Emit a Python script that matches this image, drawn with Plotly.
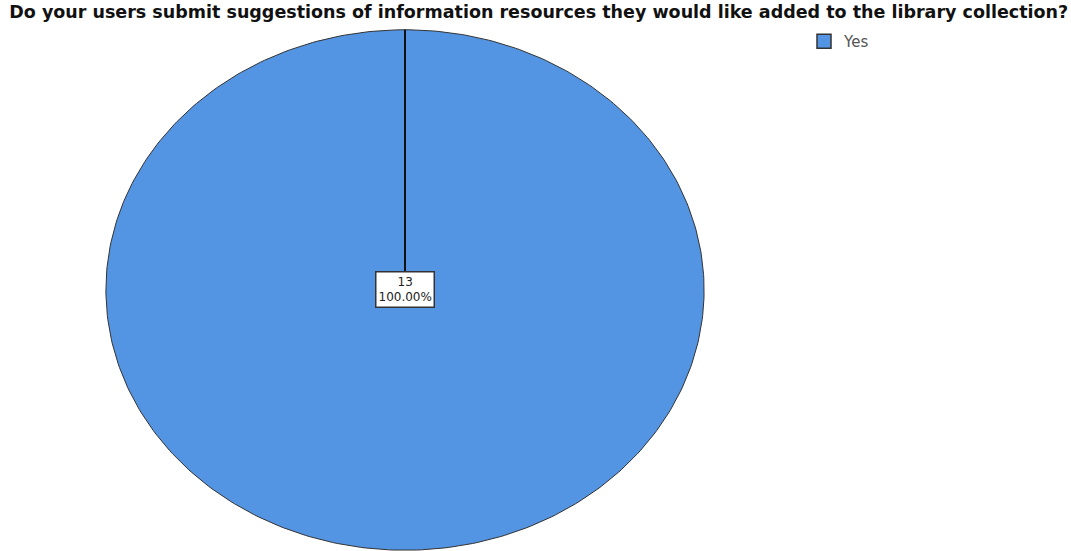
import numpy as np
import plotly.graph_objects as go

# Survey responses
categories = ["Yes"]
counts = [13]
colors = ["#5394e3"]

title_text = "Do your users submit suggestions of information resources they would like added to the library collection?"

total = sum(counts)
fractions = [c / total for c in counts]

fig = go.Figure()

# Slices drawn clockwise starting at 12 o'clock on a unit circle;
# the unequal axis lengths stretch the pie into an ellipse.
start = 0.0
boundaries = []
label_pos = []
for cat, cnt, frac, col in zip(categories, counts, fractions, colors):
    a0 = start * 2 * np.pi
    a1 = (start + frac) * 2 * np.pi
    theta = np.linspace(a0, a1, 400)
    xs = np.concatenate([[0], np.sin(theta), [0]])
    ys = np.concatenate([[0], np.cos(theta), [0]])
    fig.add_trace(go.Scatter(
        x=xs, y=ys, mode="lines", fill="toself", fillcolor=col,
        line=dict(color="#333333", width=1), showlegend=False, hoverinfo="skip"))
    boundaries.append(a0)
    mid = (a0 + a1) / 2
    r = 0 if frac >= 0.999 else 0.6
    label_pos.append((r * np.sin(mid), r * np.cos(mid), cnt, frac))
    # legend entry
    fig.add_trace(go.Scatter(
        x=[None], y=[None], mode="markers", name=cat,
        marker=dict(symbol="square", size=14, color=col,
                    line=dict(color="#333333", width=1.5))))
    start += frac

# Slice boundary lines
for a in boundaries:
    fig.add_trace(go.Scatter(
        x=[0, np.sin(a)], y=[0, np.cos(a)], mode="lines",
        line=dict(color="#111111", width=2), showlegend=False, hoverinfo="skip"))

for x, y, cnt, frac in label_pos:
    fig.add_annotation(
        x=x, y=y, xref="x", yref="y", showarrow=False,
        text=f"{cnt}<br>{frac * 100:.2f}%",
        font=dict(family="DejaVu Sans", size=12, color="#222222"),
        bgcolor="white", bordercolor="#333333", borderwidth=1.5, borderpad=2)

W, H = 1071, 551
fig.update_layout(
    width=W, height=H,
    margin=dict(l=0, r=0, t=0, b=0),
    paper_bgcolor="white", plot_bgcolor="white",
    title=dict(text=f"<b>{title_text}</b>", x=0.503, xanchor="center",
               y=1 - 12 / H, yanchor="middle",
               font=dict(family="DejaVu Sans", size=17.5, color="#111111")),
    xaxis=dict(domain=[105 / W, 705 / W], range=[-1.003, 1.003], visible=False,
               fixedrange=True),
    yaxis=dict(domain=[1 - 551 / H, 1 - 29 / H], range=[-1.003, 1.003], visible=False,
               fixedrange=True),
    legend=dict(x=804 / W, y=1 - 25 / H, xanchor="left", yanchor="top",
                font=dict(family="DejaVu Sans", size=15, color="#555555"),
                bgcolor="rgba(0,0,0,0)", itemwidth=30, tracegroupgap=0),
    showlegend=True,
)

fig.write_html("out.html")
